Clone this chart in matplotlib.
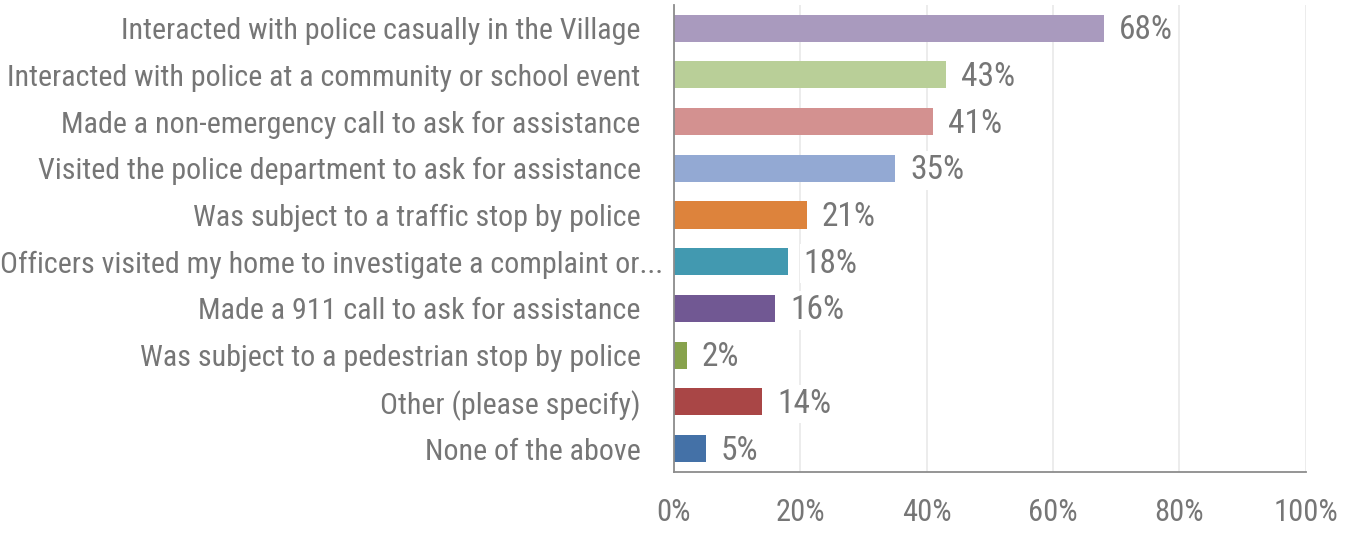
import matplotlib
matplotlib.use("Agg")
import matplotlib.pyplot as plt
import matplotlib.transforms as mtransforms
from matplotlib.ticker import FuncFormatter

# survey answers, top to bottom
categories = [
    "Interacted with police casually in the Village",
    "Interacted with police at a community or school event",
    "Made a non-emergency call to ask for assistance",
    "Visited the police department to ask for assistance",
    "Was subject to a traffic stop by police",
    "Officers visited my home to investigate a complaint or...",
    "Made a 911 call to ask for assistance",
    "Was subject to a pedestrian stop by police",
    "Other (please specify)",
    "None of the above",
]
values = [68, 43, 41, 35, 21, 18, 16, 2, 14, 5]
colors = ["#A99ABE", "#B9CF98", "#D39190", "#93A9D3", "#DD833C",
          "#4299B0", "#715893", "#87A24C", "#A94646", "#4471A7"]
xticks = [0, 20, 40, 60, 80, 100]

txt_col = "#767676"
plt.rcParams["font.family"] = ["Roboto Condensed", "DejaVu Sans"]
plt.rcParams["font.stretch"] = "condensed"
plt.rcParams["font.weight"] = 400

fig = plt.figure(figsize=(13.56, 5.35), dpi=100)
ax = fig.add_axes([0.497, 0.118, 0.466, 0.873])

ypos = list(range(len(categories)))
ax.barh(ypos, values, height=0.58, color=colors, zorder=2)
ax.set_ylim(len(categories) - 0.5, -0.5)
ax.set_xlim(0, 100)

for y, v in zip(ypos, values):
    ax.annotate(f"{v}%", (v, y), xytext=(11, -1.5), textcoords="offset points",
                ha="left", va="center", fontsize=24, color=txt_col,
                bbox=dict(boxstyle="square,pad=0.1", fc="white", ec="none"), zorder=3)

ax.set_xticks(xticks)
ax.xaxis.set_major_formatter(FuncFormatter(lambda x, p: f"{x:.0f}%"))
ax.set_yticks(ypos)
ax.set_yticklabels(categories)
ax.tick_params(axis="x", length=0, pad=19, labelsize=22, labelcolor=txt_col)
ax.tick_params(axis="y", length=0, pad=24, labelsize=21.6, labelcolor=txt_col)

# the truncated label sits closer to the axis
lab = ax.get_yticklabels()[5]
lab.set_transform(lab.get_transform() + mtransforms.ScaledTranslation(23 / 100, 0, fig.dpi_scale_trans))

ax.grid(axis="x", color="#EBEBEB", linewidth=1.3, zorder=0)
for s in ("top", "right"):
    ax.spines[s].set_visible(False)
for s in ("left", "bottom"):
    ax.spines[s].set_color("#8C8C8C")
    ax.spines[s].set_linewidth(1.3)
    ax.spines[s].set_zorder(4)

fig.savefig("out.png", dpi=100)
